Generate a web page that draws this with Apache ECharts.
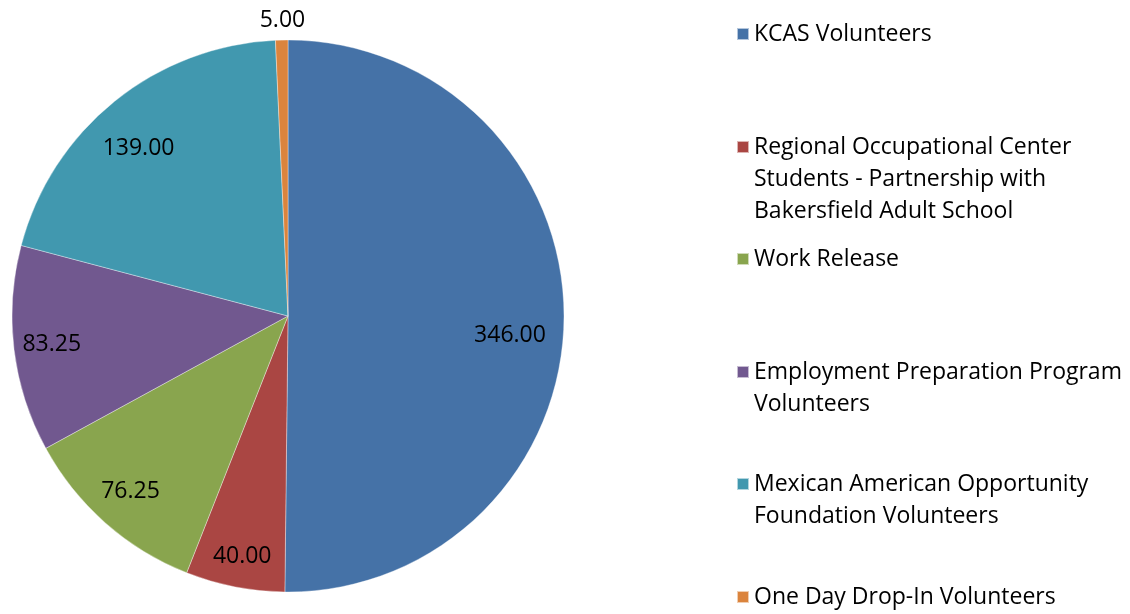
<!DOCTYPE html>
<html>
<head>
<meta charset="utf-8">
<script src="https://cdn.jsdelivr.net/npm/echarts@6/dist/echarts.min.js"></script>
<style>html,body{margin:0;padding:0;background:#fff}#c{width:1130px;height:614px}</style>
</head>
<body>
<div id="c"></div>
<script>
const categories = [
  'KCAS Volunteers',
  'Regional Occupational Center Students - Partnership with Bakersfield Adult School',
  'Work Release',
  'Employment Preparation Program Volunteers',
  'Mexican American Opportunity Foundation Volunteers',
  'One Day Drop-In Volunteers'
];
const legendLines = [
  ['KCAS Volunteers'],
  ['Regional Occupational Center', 'Students - Partnership with', 'Bakersfield Adult School'],
  ['Work Release'],
  ['Employment Preparation Program', 'Volunteers'],
  ['Mexican American Opportunity', 'Foundation Volunteers'],
  ['One Day Drop-In Volunteers']
];
const values = [346.00, 40.00, 76.25, 83.25, 139.00, 5.00];
const colors = ['#4572A7', '#AA4643', '#89A54E', '#71588F', '#4198AF', '#DB843D'];

const FONT = 'Open Sans';
const FS = 23;
const LH = 32;
const legendFirstLineY = [34, 147, 259, 372, 484, 597];
// small label nudges (px) to mimic the original label placement
const labelDx = [-16, 0, 0, 0, 0, 2];
const labelDy = [18, 7, -3, 0, 18, 2];

const legends = categories.map((name, i) => {
  const n = legendLines[i].length;
  const lines = new Array(n - 1).fill('').concat(legendLines[i]);
  return {
    data: [name],
    orient: 'vertical',
    left: 736,
    top: legendFirstLineY[i] - 16 - LH * (n - 1),
    padding: 0,
    icon: 'rect',
    itemWidth: 12,
    itemHeight: 12,
    selectedMode: false,
    formatter: () => lines.join('\n'),
    textStyle: { fontFamily: FONT, fontSize: FS, color: '#000', lineHeight: LH }
  };
});

const mainData = categories.map((name, i) => ({
  name, value: values[i],
  itemStyle: { color: colors[i] }
}));

const labelData = categories.map((name, i) => {
  const d = { name, value: values[i] };
  if (i === 5) {
    d.label = { show: true, position: 'outside', distanceToLabelLine: -22 };
  }
  return d;
});

const chart = echarts.init(document.getElementById('c'), null, { renderer: 'canvas' });
chart.setOption({
  animation: false,
  backgroundColor: '#fff',
  legend: legends,
  series: [
    {
      type: 'pie',
      center: [288, 316],
      radius: [0, 276],
      startAngle: 90,
      clockwise: true,
      data: mainData,
      label: { show: false },
      labelLine: { show: false },
      itemStyle: { borderColor: 'rgba(255,255,255,0.6)', borderWidth: 0.6 },
      emphasis: { disabled: true }
    },
    {
      type: 'pie',
      center: [288, 316],
      radius: [194, 276],
      startAngle: 90,
      clockwise: true,
      silent: true,
      data: labelData,
      itemStyle: { color: 'rgba(0,0,0,0)', borderWidth: 0 },
      label: {
        show: true,
        position: 'inside',
        formatter: p => p.value.toFixed(2),
        fontFamily: FONT, fontSize: FS, color: '#000'
      },
      labelLine: { show: false, length: 22, length2: 0 },
      labelLayout: p => ({ dx: labelDx[p.dataIndex], dy: labelDy[p.dataIndex] }),
      emphasis: { disabled: true }
    }
  ]
});
</script>
</body>
</html>
